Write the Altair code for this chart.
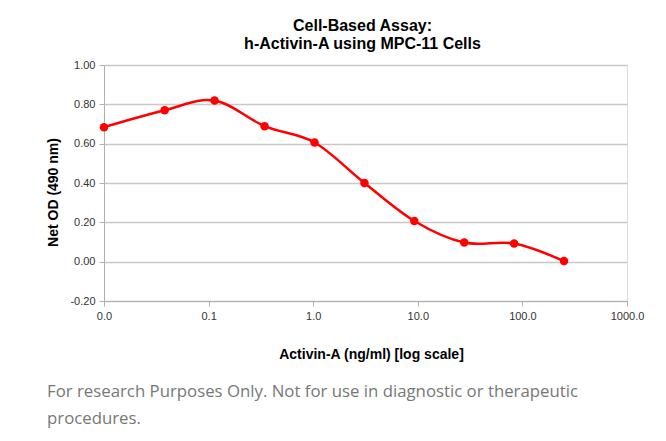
import altair as alt
import pandas as pd

# ---- data ----
concentration = [0.01, 0.038, 0.114, 0.343, 1.03, 3.09, 9.26, 27.8, 83.3, 250.0]
net_od = [0.684, 0.770, 0.820, 0.689, 0.606, 0.400, 0.207, 0.097, 0.092, 0.003]

x_ticks = [0.01, 0.1, 1, 10, 100, 1000]
y_ticks = [-0.2, 0.0, 0.2, 0.4, 0.6, 0.8, 1.0]

title_lines = ["Cell-Based Assay:", "h-Activin-A using MPC-11 Cells"]
x_title = "Activin-A (ng/ml) [log scale]"
y_title = "Net OD (490 nm)"
footer_lines = [
    "For research Purposes Only. Not for use in diagnostic or therapeutic",
    "procedures.",
]

df = pd.DataFrame({"conc": concentration, "od": net_od})

FONT = "Liberation Sans"

x_enc = alt.X(
    "conc:Q",
    scale=alt.Scale(type="log", domain=[0.01, 1000], nice=False),
    axis=alt.Axis(
        values=x_ticks,
        tickCount=20,
        format=".1f",
        title=x_title,
        grid=False,
        domainColor="#b0b0b0",
        tickColor="#b0b0b0",
        tickSize=5,
        labelFont=FONT,
        labelFontSize=11,
        labelColor="#333333",
        labelPadding=4,
        labelFlush=False,
        labelOverlap=False,
        titleFont=FONT,
        titleFontSize=14,
        titleFontWeight="bold",
        titleColor="#000000",
        titleX=267,
        titleY=57,
        titleBaseline="alphabetic",
        titleAlign="center",
    ),
)
y_enc = alt.Y(
    "od:Q",
    scale=alt.Scale(domain=[-0.2, 1.0], nice=False, zero=False),
    axis=alt.Axis(
        values=y_ticks,
        tickCount=20,
        labelExpr="replace(format(datum.value, '.2f'), '\u2212', '-')",
        title=y_title,
        grid=True,
        gridColor="#c8c8c8",
        gridWidth=1.4,
        domainColor="#b0b0b0",
        tickColor="#b0b0b0",
        tickSize=5,
        labelFont=FONT,
        labelFontSize=11,
        labelColor="#333333",
        labelPadding=4,
        labelFlush=False,
        labelOverlap=False,
        titleFont=FONT,
        titleFontSize=14,
        titleFontWeight="bold",
        titleColor="#000000",
        titleX=-47,
        titleY=127,
        titleAngle=270,
        titleBaseline="alphabetic",
        titleAlign="center",
    ),
)

base = alt.Chart(df)

line = base.mark_line(
    interpolate="cardinal", color="#ff0000", strokeWidth=2.5
).encode(x=x_enc, y=y_enc)

points = base.mark_circle(size=72, color="#ff0000", opacity=1).encode(
    x="conc:Q", y="od:Q"
)

footer = (
    alt.Chart(pd.DataFrame({"k": [0]}))
    .mark_text(
        text=footer_lines,
        align="left",
        baseline="alphabetic",
        font="Open Sans",
        fontSize=16.8,
        lineHeight=27,
        color="#777777",
    )
    .encode(x=alt.value(-57), y=alt.value(332))
)

chart = (
    alt.layer(line, points, footer)
    .properties(
        width=523,
        height=236,
        title=alt.TitleParams(
            text=title_lines,
            font=FONT,
            fontSize=16,
            fontWeight="bold",
            color="#000000",
            anchor="middle",
            frame="group",
            baseline="bottom",
            lineHeight=18.4,
            offset=14,
            dy=23,
            dx=-3,
        ),
        autosize=alt.AutoSizeParams(type="none"),
        padding={"left": 96, "top": 57, "right": 31, "bottom": 132},
    )
    .configure_view(stroke=None)
    .configure(background="#ffffff")
)

chart.save("out.html", embed_options={"renderer": "svg", "actions": False})
